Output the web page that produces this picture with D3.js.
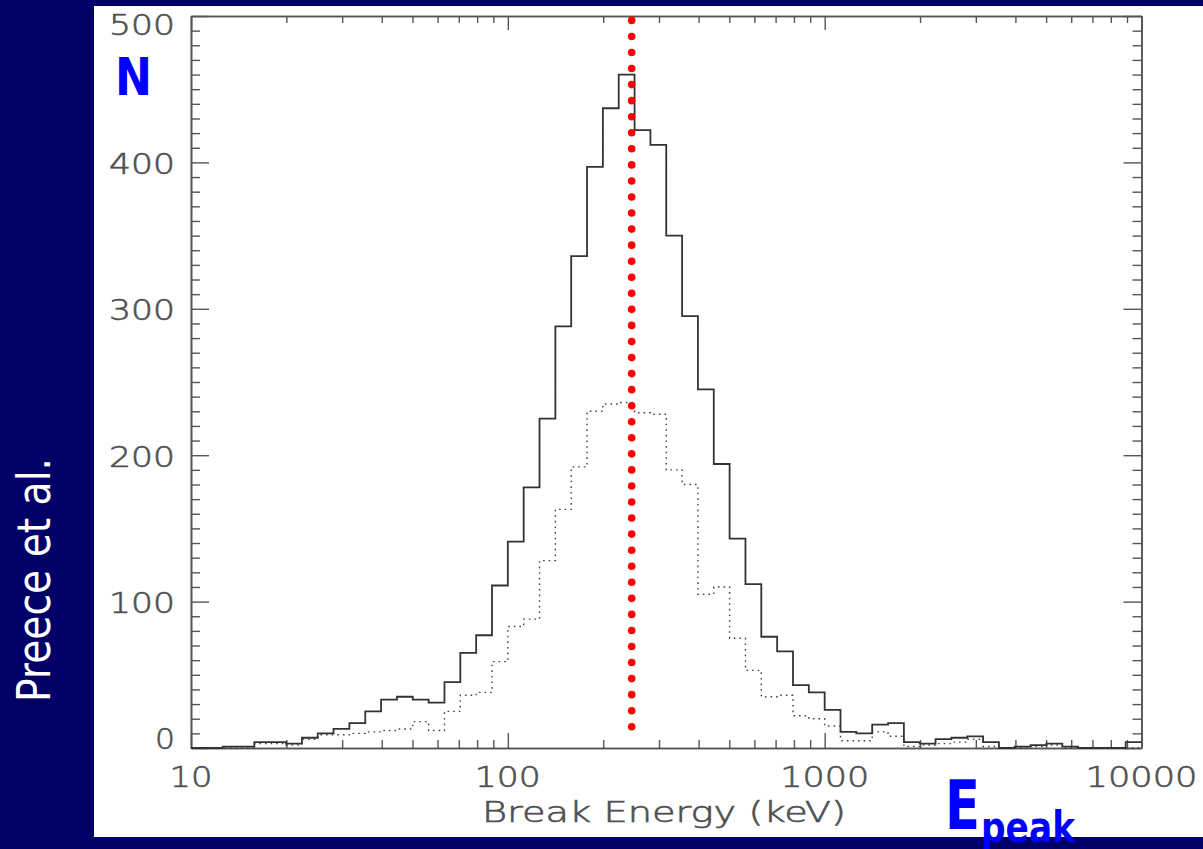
<!DOCTYPE html>
<html>
<head>
<meta charset="utf-8">
<script src="https://cdn.jsdelivr.net/npm/d3@7"></script>
<style>
  html, body { margin: 0; padding: 0; background: #000066; }
  svg { display: block; }
</style>
</head>
<body>
<svg id="chart" width="1203" height="849"></svg>
<script>
// ---------------- data ----------------
// histogram bins: log10(E) from 1.00 to 4.00 in steps of 0.05 (60 bins)
const binLogStart = 1.0;
const binLogStep = 0.05;
const solidCounts = [
  0, 0, 1, 1, 4, 4, 3, 7, 10, 13,
  17, 25, 33, 35, 33, 31, 45, 65, 77, 111,
  141, 178, 225, 288, 336, 397, 437, 460, 422, 412,
  350, 295, 245, 194, 143, 112, 76, 66, 43, 38,
  26, 11, 10, 16, 17, 4, 3, 6, 7, 8,
  4, 0, 1, 2, 3, 1, 0, 0, 0, 4
];
const dottedCounts = [
  0, 0, 0, 0, 3, 3, 2, 6, 9, 9,
  10, 11, 12, 13, 18, 12, 25, 36, 38, 59,
  83, 88, 128, 163, 192, 230, 235, 236, 229, 228,
  190, 180, 105, 110, 75, 53, 35, 36, 22, 20,
  15, 5, 5, 11, 8, 1, 2, 3, 4, 6,
  1, 0, 0, 1, 2, 0, 0, 0, 0, 0
];
const yTickLabels = [0, 100, 200, 300, 400, 500];
const xTickLabels = [10, 100, 1000, 10000];
const xTitle = "Break Energy (keV)";
const yMarker = "N";
const xMarkerMain = "E";
const xMarkerSub = "peak";
const sideCredit = "Preece et al.";
const markerEnergy = 246;        // red dotted vertical line (keV)
const markerRange = [14.5, 497]; // its extent in N
const markerDotCount = 45;

// ---------------- layout ----------------
const svg = d3.select("#chart");
const plot = {left: 191, right: 1141.5, top: 16, bottom: 748};
const x = d3.scaleLog().domain([10, 10000]).range([plot.left, plot.right]);
const y = d3.scaleLinear().domain([0, 500]).range([plot.bottom, plot.top]);

// background panels
svg.append("rect").attr("x", 0).attr("y", 0).attr("width", 1203).attr("height", 849).attr("fill", "#000066");
svg.append("rect").attr("x", 94).attr("y", 6).attr("width", 1109).attr("height", 831).attr("fill", "#ffffff");

const axisColor = "#555";

// ---------------- axes ----------------
const minorX = [];
[10, 100, 1000].forEach(d => { for (let m = 2; m <= 9; m++) minorX.push(d * m); });
const minorY = d3.range(0, 501, 10).filter(v => v % 100 !== 0);

function styleAxis(g) {
  g.selectAll("path.domain").attr("stroke", axisColor).attr("stroke-width", 1.6);
  g.selectAll(".tick line").attr("stroke", axisColor).attr("stroke-width", 1.4);
  g.selectAll(".tick text").remove();
}

// bottom
svg.append("g").attr("transform", `translate(0,${plot.bottom})`)
  .call(d3.axisBottom(x).tickValues(xTickLabels).tickSize(-15).tickSizeOuter(0).tickFormat(""))
  .call(styleAxis);
svg.append("g").attr("transform", `translate(0,${plot.bottom})`)
  .call(d3.axisBottom(x).tickValues(minorX).tickSize(-8).tickSizeOuter(0).tickFormat(""))
  .call(styleAxis);
// top
svg.append("g").attr("transform", `translate(0,${plot.top})`)
  .call(d3.axisTop(x).tickValues(xTickLabels).tickSize(-14).tickSizeOuter(0).tickFormat(""))
  .call(styleAxis);
svg.append("g").attr("transform", `translate(0,${plot.top})`)
  .call(d3.axisTop(x).tickValues(minorX).tickSize(-7).tickSizeOuter(0).tickFormat(""))
  .call(styleAxis);
// left
svg.append("g").attr("transform", `translate(${plot.left},0)`)
  .call(d3.axisLeft(y).tickValues(yTickLabels).tickSize(-18).tickSizeOuter(0).tickFormat(""))
  .call(styleAxis);
svg.append("g").attr("transform", `translate(${plot.left},0)`)
  .call(d3.axisLeft(y).tickValues(minorY).tickSize(-9).tickSizeOuter(0).tickFormat(""))
  .call(styleAxis);
// right
svg.append("g").attr("transform", `translate(${plot.right},0)`)
  .call(d3.axisRight(y).tickValues(yTickLabels).tickSize(-18).tickSizeOuter(0).tickFormat(""))
  .call(styleAxis);
svg.append("g").attr("transform", `translate(${plot.right},0)`)
  .call(d3.axisRight(y).tickValues(minorY).tickSize(-9).tickSizeOuter(0).tickFormat(""))
  .call(styleAxis);

// ---------------- tick labels ----------------
const labelFont = "'DejaVu Sans', sans-serif";
const labelColor = "#505050";
const charAdv = 23;
function labelStyle(sel) {
  sel.attr("font-family", labelFont).attr("font-weight", 200)
    .attr("font-size", 28).attr("fill", labelColor)
    .attr("stroke", labelColor).attr("stroke-width", 0.6)
    .attr("lengthAdjust", "spacingAndGlyphs");
}
svg.append("g").selectAll("text").data(yTickLabels).join("text")
  .attr("x", 175)
  .attr("y", d => Math.min(Math.max(y(d) + 1.5, 25), 739) + 10)
  .attr("text-anchor", "end")
  .call(labelStyle)
  .attr("textLength", d => String(d).length * charAdv - 3)
  .text(d => d);

svg.append("g").selectAll("text").data(xTickLabels).join("text")
  .attr("x", d => x(d) - (String(d).length * charAdv - 3) / 2)
  .attr("y", 787)
  .call(labelStyle)
  .attr("textLength", d => String(d).length * charAdv - 3)
  .text(d => d);

svg.append("text")
  .attr("x", 482).attr("y", 822)
  .call(labelStyle)
  .attr("textLength", 364)
  .text(xTitle);

// ---------------- histograms ----------------
function stepPoints(counts) {
  const pts = counts.map((c, i) => [Math.pow(10, binLogStart + i * binLogStep), c]);
  pts.push([Math.pow(10, binLogStart + counts.length * binLogStep), counts[counts.length - 1]]);
  return pts;
}
const stepLine = d3.line().x(d => x(d[0])).y(d => y(d[1])).curve(d3.curveStepAfter);

svg.append("path").attr("d", stepLine(stepPoints(dottedCounts)))
  .attr("fill", "none").attr("stroke", "#444").attr("stroke-width", 1.4)
  .attr("stroke-dasharray", "1.6,4");

svg.append("path").attr("d", stepLine(stepPoints(solidCounts)))
  .attr("fill", "none").attr("stroke", "#333").attr("stroke-width", 1.8);

// ---------------- red marker ----------------
const dotScale = d3.scaleLinear().domain([0, markerDotCount - 1]).range(markerRange);
svg.append("g").selectAll("circle").data(d3.range(markerDotCount)).join("circle")
  .attr("cx", x(markerEnergy))
  .attr("cy", i => y(dotScale(i)))
  .attr("r", 3.8)
  .attr("fill", "#ff0000");

// ---------------- annotations ----------------
const blue = "#0000ff";
svg.append("text").attr("x", 115).attr("y", 95)
  .attr("font-family", "'DejaVu Sans', sans-serif").attr("font-weight", "bold")
  .attr("font-size", 52).attr("fill", blue)
  .attr("textLength", 37).attr("lengthAdjust", "spacingAndGlyphs")
  .text(yMarker);

svg.append("text").attr("x", 945).attr("y", 828.5)
  .attr("font-family", "'DejaVu Sans', sans-serif").attr("font-weight", "bold")
  .attr("font-size", 68).attr("fill", blue)
  .attr("textLength", 35).attr("lengthAdjust", "spacingAndGlyphs")
  .text(xMarkerMain);
svg.append("text").attr("x", 981).attr("y", 842)
  .attr("font-family", "'DejaVu Sans', sans-serif").attr("font-weight", "bold")
  .attr("font-size", 42).attr("fill", blue)
  .attr("textLength", 94).attr("lengthAdjust", "spacingAndGlyphs")
  .text(xMarkerSub);

svg.append("text")
  .attr("transform", "translate(50,702) rotate(-90)")
  .attr("font-family", "'DejaVu Sans', sans-serif")
  .attr("font-size", 46).attr("fill", "#ffffff")
  .attr("textLength", 244).attr("lengthAdjust", "spacingAndGlyphs")
  .text(sideCredit);
</script>
</body>
</html>
